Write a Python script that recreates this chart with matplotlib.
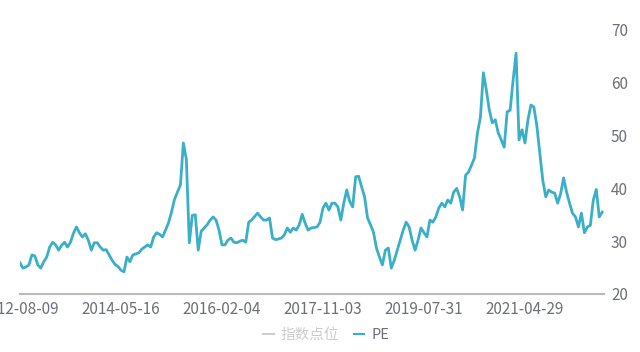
import numpy as np
import matplotlib as mpl
mpl.use('Agg')
from matplotlib import pyplot as plt
from matplotlib.lines import Line2D

plt.rcParams['font.family'] = ['Noto Sans CJK SC', 'DejaVu Sans']

# PE values, evenly spaced samples
pe = [
    25.9, 24.9, 25.1, 25.5, 27.4, 27.2, 25.5, 24.9, 26.1, 27.0,
    28.9, 29.8, 29.3, 28.3, 29.2, 29.8, 28.9, 29.8, 31.5, 32.7,
    31.6, 30.8, 31.4, 30.2, 28.3, 29.7, 29.7, 28.9, 28.3, 28.4,
    27.4, 26.4, 25.6, 25.2, 24.5, 24.2, 27.0, 26.1, 27.4, 27.6,
    27.8, 28.5, 28.9, 29.3, 28.9, 30.8, 31.6, 31.3, 30.8, 32.1,
    33.5, 35.5, 37.9, 39.3, 40.6, 48.6, 45.5, 29.7, 34.9, 35.0,
    28.3, 31.9, 32.5, 33.1, 34.0, 34.6, 34.0, 32.1, 29.3, 29.3,
    30.2, 30.6, 29.8, 29.7, 30.0, 30.2, 29.8, 33.6, 34.0, 34.7,
    35.3, 34.6, 34.0, 34.0, 34.4, 30.6, 30.3, 30.4, 30.6, 31.2,
    32.5, 31.7, 32.5, 32.1, 33.1, 35.1, 33.4, 32.1, 32.5, 32.6,
    32.7, 33.6, 36.3, 37.2, 35.9, 37.2, 37.2, 36.5, 34.0, 37.2,
    39.7, 37.5, 36.5, 42.2, 42.3, 40.3, 38.4, 34.4, 33.1, 31.7,
    28.7, 27.0, 25.5, 28.3, 28.7, 24.9, 26.4, 28.3, 30.2, 32.1,
    33.6, 32.7, 30.2, 28.3, 30.2, 32.5, 31.6, 30.8, 34.0, 33.6,
    34.6, 36.3, 37.2, 36.5, 37.8, 37.2, 39.3, 40.0, 38.4, 35.9,
    42.5, 43.1, 44.4, 45.8, 50.5, 53.5, 61.9, 58.6, 54.8, 52.4,
    53.0, 50.5, 49.2, 47.8, 54.5, 54.8, 60.5, 65.6, 49.2, 51.1,
    48.6, 53.0, 55.8, 55.4, 51.8, 46.7, 41.5, 38.4, 39.7, 39.3,
    39.1, 37.2, 39.0, 42.0, 39.3, 37.2, 35.3, 34.6, 32.7, 35.3,
    31.6, 32.7, 33.0, 37.8, 39.8, 34.6, 35.5,
]
date_labels = ['2012-08-09', '2014-05-16', '2016-02-04',
               '2017-11-03', '2019-07-31', '2021-04-29']
label_step = 34
y_ticks = [20, 30, 40, 50, 60, 70]

line_color = '#3AAFC8'
text_color = '#6e7079'

fig = plt.figure(figsize=(6.4, 3.52), dpi=100)
ax = fig.add_axes([0.03125, 0.1648, 0.9125, 0.75])

x = np.arange(len(pe))
ax.plot(x, pe, color=line_color, lw=2.0)

ax.set_xlim(0, 196.6)
ax.set_ylim(y_ticks[0], y_ticks[-1])
ax.set_xticks(np.arange(len(date_labels)) * label_step)
ax.set_xticklabels(date_labels)
ax.set_yticks(y_ticks)
ax.yaxis.tick_right()
ax.tick_params(axis='both', length=0, labelsize=11, colors=text_color)
ax.tick_params(axis='x', pad=5)
ax.tick_params(axis='y', pad=5)

for s in ['top', 'left', 'right']:
    ax.spines[s].set_visible(False)
ax.spines['bottom'].set_color('#bbbbbb')
ax.spines['bottom'].set_linewidth(1.5)

handles = [Line2D([], [], color='#cccccc', lw=1.5),
           Line2D([], [], color=line_color, lw=1.5)]
leg = fig.legend(handles, ['指数点位', 'PE'], loc='lower center',
                 bbox_to_anchor=(0.51, -0.01), ncol=2, frameon=False,
                 handlelength=0.7, handletextpad=0.5, columnspacing=1.0,
                 fontsize=10.5)
leg.get_texts()[0].set_color('#cccccc')
leg.get_texts()[1].set_color(text_color)

fig.savefig('out.png', dpi=100)
